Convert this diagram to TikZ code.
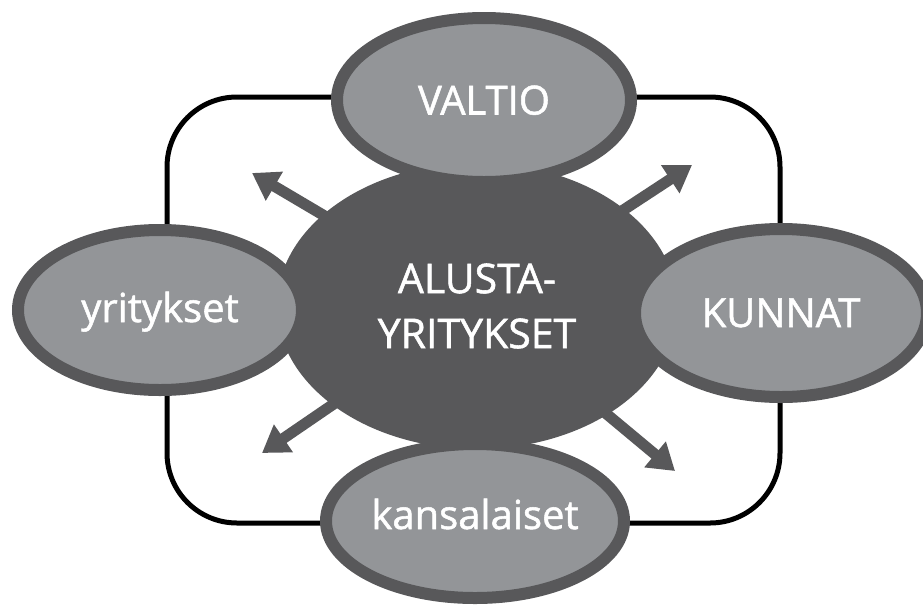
\documentclass[tikz,border=0pt]{standalone}
\usepackage{fontspec}
\setmainfont{Open Sans}
\newfontfamily\lbl{Open Sans}[FakeBold=1.3]
\usetikzlibrary{shapes.geometric,arrows.meta}
\definecolor{dk}{HTML}{58585A}
\definecolor{lt}{HTML}{939598}
\begin{document}
\begin{tikzpicture}[x=1pt,y=-1pt,
  sat/.style={ellipse, draw=dk, fill=lt, line width=12pt, inner sep=0pt,
    text=white, text depth=0pt, font=\lbl\fontsize{40}{48}\selectfont},
  hub/.style={ellipse, fill=dk, inner sep=0pt, text=white, align=center,
    font=\lbl\fontsize{41}{55}\selectfont},
  arr/.style={draw=dk, line width=11pt, -{Triangle[length=26pt,width=32pt]}},
  frame/.style={draw=black, line width=5pt, rounded corners=70pt}]
\useasboundingbox (0,0) rectangle (923,606);
\draw[frame] (167,97) rectangle (780,523);
\coordinate (hc) at (477,306);
\coordinate (tUL) at (252,173);
\coordinate (tUR) at (692,165);
\coordinate (tLL) at (262,453);
\coordinate (tLR) at (675,471);
\draw[arr] (hc) -- (tUL);
\draw[arr] (hc) -- (tUR);
\draw[arr] (hc) -- (tLL);
\draw[arr] (hc) -- (tLR);
\node[hub, minimum width=400pt, minimum height=286pt] (hub) at (hc) {ALUSTA-\\YRITYKSET};
\node[sat, minimum width=294pt, minimum height=164pt, text height=29pt] (valtio) at (484,100) {VALTIO};
\node[sat, minimum width=284pt, minimum height=160pt, text height=24pt] (yrit) at (160,310) {yritykset};
\node[sat, minimum width=292pt, minimum height=168pt, text height=28pt] (kunnat) at (781,313) {KUNNAT};
\node[sat, minimum width=298pt, minimum height=154pt, text height=16pt] (kans) at (475,521) {kansalaiset};
\end{tikzpicture}
\end{document}
